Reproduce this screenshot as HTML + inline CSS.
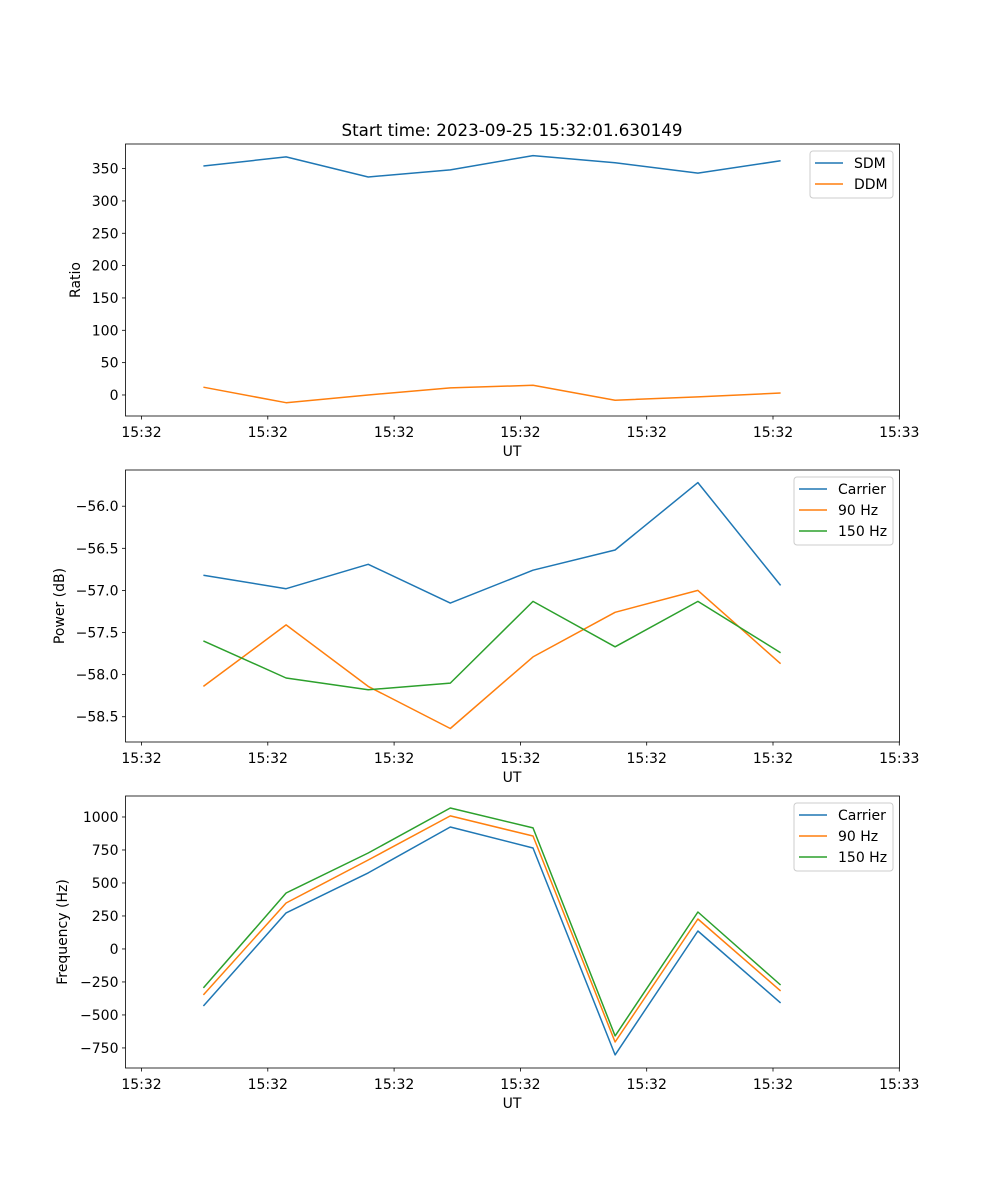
<!DOCTYPE html>
<html><head><meta charset="utf-8"><style>
body{margin:0;background:#fff}
svg{display:block;font-family:"DejaVu Sans","Liberation Sans",sans-serif}
</style></head><body>
<svg id="fig" width="1000" height="1200" viewBox="0 0 1000 1200" xmlns="http://www.w3.org/2000/svg">
<rect width="1000" height="1200" fill="#fff"/>
<text x="512" y="136" font-size="16.7" text-anchor="middle">Start time: 2023-09-25 15:32:01.630149</text>
</svg>
<script>
// shared x data (in tick units; ticks at integer values 0..6)
const times = [0.49, 1.145, 1.795, 2.445, 3.10, 3.75, 4.405, 5.06];
const xTickValues = [0,1,2,3,4,5,6];
const xTickLabels = ["15:32","15:32","15:32","15:32","15:32","15:32","15:33"];

// panel 1: ratio
const sdm = [354, 368, 337, 348, 370, 359, 343, 362];
const ddm = [12, -12, 0, 11, 15, -8, -3, 3];
const ratioTicks = [0,50,100,150,200,250,300,350];

// panel 2: power
const pCarrier = [-56.82, -56.98, -56.69, -57.15, -56.76, -56.52, -55.72, -56.94];
const p90 = [-58.14, -57.41, -58.14, -58.64, -57.79, -57.26, -57.00, -57.87];
const p150 = [-57.60, -58.04, -58.18, -58.10, -57.13, -57.67, -57.13, -57.74];
const powerTicks = [-56.0,-56.5,-57.0,-57.5,-58.0,-58.5];

// panel 3: frequency
const fCarrier = [-432, 273, 576, 924, 765, -803, 136, -409];
const f90 = [-348, 348, 674, 1008, 856, -705, 227, -318];
const f150 = [-295, 424, 727, 1068, 917, -659, 280, -273];
const freqTicks = [-750,-500,-250,0,250,500,750,1000];

const NS="http://www.w3.org/2000/svg";
const svg=document.getElementById('fig');
const L=125.5,R=899.5;
const FS=14;
const xScale=v=>141.5+v*126.3;
function mk(tag,attrs,parent){const e=document.createElementNS(NS,tag);for(const k in attrs)e.setAttribute(k,attrs[k]);(parent||svg).appendChild(e);return e;}

const C=['#1f77b4','#ff7f0e','#2ca02c'];

function panel(name,top,bottom,ymin,ymax,yTicks,fmt,ylabel,series,labels,legend){
  const g=mk('g',{});
  
  
  const y=v=>bottom-(v-ymin)/(ymax-ymin)*(bottom-top);
  series.forEach((s,i)=>{
    const pts=s.map((v,j)=>xScale(times[j]).toFixed(1)+','+y(v).toFixed(1)).join(' ');
    const pl=mk('polyline',{points:pts,fill:'none',stroke:C[i],'stroke-width':1.5,'stroke-linejoin':'round'},g);
    
    
  });
  const fr=mk('rect',{x:L,y:top,width:R-L,height:bottom-top,fill:'none',stroke:'#000','stroke-width':0.8},g);
  
  
  xTickValues.forEach((v,i)=>{
    const x=xScale(v);
    mk('line',{x1:x,x2:x,y1:bottom,y2:bottom+3.5,stroke:'#000','stroke-width':0.8},g);
    const t=mk('text',{x:x,y:bottom+21,'font-size':FS,'text-anchor':'middle'},g);
    t.textContent=xTickLabels[i];
    
    
  });
  const xl=mk('text',{x:512,y:bottom+40,'font-size':FS,'text-anchor':'middle'},g);
  xl.textContent='UT';
  
  
  yTicks.forEach(v=>{
    const yy=y(v);
    mk('line',{x1:L-3.5,x2:L,y1:yy,y2:yy,stroke:'#000','stroke-width':0.8},g);
    const t=mk('text',{x:L-7,y:yy+5,'font-size':FS,'text-anchor':'end'},g);
    t.textContent=fmt(v);
    
    
  });
  const yl=mk('text',{x:0,y:0,'font-size':FS,'text-anchor':'middle',transform:`translate(${legend.ylx},${(top+bottom)/2}) rotate(-90)`},g);
  yl.textContent=ylabel;
  
  
  const lg=mk('g',{},g);
  
  
  mk('rect',{x:legend.x,y:top+7,width:893-legend.x,height:labels.length*21+5,rx:3,fill:'#fff','fill-opacity':0.8,stroke:'#ccc','stroke-width':1},lg);
  labels.forEach((lab,i)=>{
    const ly=top+19+i*21;
    mk('line',{x1:legend.x+5,x2:legend.x+33,y1:ly,y2:ly,stroke:C[i],'stroke-width':1.5},lg);
    const t=mk('text',{x:legend.x+44,y:ly+5,'font-size':FS},lg);
    t.textContent=lab;
    
    
  });
}
const minus=s=>s.replace('-','\u2212');
panel('ratio',144,416,-32.5,388,ratioTicks,v=>minus(String(v)),'Ratio',[sdm,ddm],['SDM','DDM'],{x:810,ylx:80});
panel('power',470,742,-58.80,-55.57,powerTicks,v=>minus(v.toFixed(1)),'Power (dB)',[pCarrier,p90,p150],['Carrier','90 Hz','150 Hz'],{x:794,ylx:64});
panel('frequency',796,1068,-902,1159,freqTicks,v=>minus(String(v)),'Frequency (Hz)',[fCarrier,f90,f150],['Carrier','90 Hz','150 Hz'],{x:794,ylx:67});
</script>
</body></html>
